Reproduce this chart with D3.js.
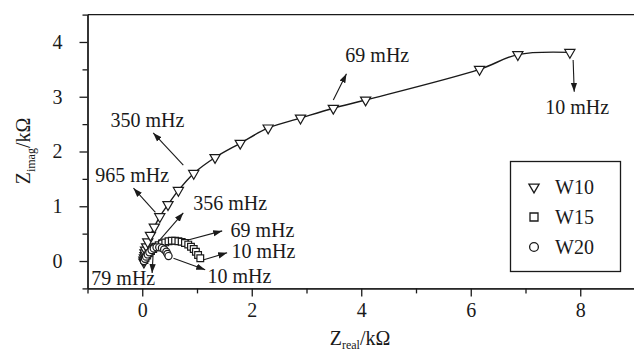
<!DOCTYPE html>
<html>
<head>
<meta charset="utf-8">
<script src="https://cdn.jsdelivr.net/npm/d3@7"></script>
<style>
  html, body { margin: 0; padding: 0; background: #fff; }
  svg { display: block; font-family: "Liberation Serif", "Times New Roman", serif; }
</style>
</head>
<body>
<script>
// W10: Nyquist points (Z_real, Z_imag) in kΩ
const w10Real = [0.03, 0.03, 0.04, 0.05, 0.05, 0.06, 0.08, 0.10, 0.15, 0.22, 0.32, 0.47, 0.66, 0.94, 1.33, 1.79, 2.30, 2.89, 3.49, 4.08, 6.16, 6.86, 7.81];
const w10Imag = [-0.02, 0.02, 0.06, 0.10, 0.15, 0.20, 0.26, 0.35, 0.47, 0.62, 0.81, 1.03, 1.29, 1.60, 1.89, 2.15, 2.43, 2.61, 2.79, 2.94, 3.50, 3.77, 3.81];

const w15Real = [0.04, 0.06, 0.09, 0.12, 0.16, 0.20, 0.25, 0.30, 0.36, 0.42, 0.48, 0.54, 0.60, 0.66, 0.72, 0.78, 0.84, 0.89, 0.94, 0.98, 1.02, 1.06];
const w15Imag = [0.02, 0.06, 0.10, 0.14, 0.18, 0.22, 0.26, 0.29, 0.32, 0.34, 0.36, 0.37, 0.37, 0.36, 0.35, 0.33, 0.30, 0.26, 0.22, 0.17, 0.11, 0.05];

const w20Real = [0.03, 0.05, 0.07, 0.10, 0.13, 0.17, 0.21, 0.26, 0.31, 0.36, 0.40, 0.44, 0.46, 0.48];
const w20Imag = [0.00, 0.04, 0.08, 0.12, 0.16, 0.20, 0.23, 0.25, 0.25, 0.24, 0.21, 0.17, 0.13, 0.09];

const seriesNames = ["W10", "W15", "W20"];

const xMajor = [0, 2, 4, 6, 8];
const xMinor = [-1, 1, 3, 5, 7, 9];
const yMajor = [0, 1, 2, 3, 4];
const yMinor = [-0.5, 0.5, 1.5, 2.5, 3.5, 4.5];

// frequency annotations: label, label anchor, arrow tail, arrow head (data units)
const noteLabels = ["350 mHz", "965 mHz", "356 mHz", "69 mHz", "10 mHz", "10 mHz", "79 mHz", "69 mHz", "10 mHz"];
const noteText = [[-0.58, 2.58], [-0.86, 1.57], [0.93, 1.06], [1.61, 0.57], [1.63, 0.18], [1.19, -0.27], [-0.93, -0.31], [3.71, 3.76], [7.36, 2.81]];
const noteFrom = [[0.75, 1.75], [0.24, 0.89], [0.29, 0.35], [0.82, 0.38], [1.11, 0.02], [0.57, 0.05], [0.20, 0.15], [3.49, 2.94], [7.87, 3.67]];
const noteTo = [[0.20, 2.34], [-0.16, 1.33], [0.75, 0.88], [1.46, 0.55], [1.55, 0.15], [1.15, -0.16], [0.18, -0.22], [3.73, 3.42], [7.89, 3.09]];

const width = 634;
const height = 352;
const ink = "#1a1a1a";

const svg = d3.select("body").append("svg")
  .attr("width", width)
  .attr("height", height);

svg.append("defs").append("marker")
  .attr("id", "head")
  .attr("viewBox", "0 0 10 10")
  .attr("refX", 10)
  .attr("refY", 5)
  .attr("markerWidth", 9)
  .attr("markerHeight", 9)
  .attr("markerUnits", "userSpaceOnUse")
  .attr("orient", "auto")
  .append("path")
  .attr("d", "M0,1.5L10,5L0,8.5Z")
  .attr("fill", ink);

const x = d3.scaleLinear().domain([-1, 9]).range([87.5, 635]);
const y = d3.scaleLinear().domain([-0.5, 4.5]).range([288.4, 14.6]);

const styleAxis = (g) => {
  g.selectAll("path, line").attr("stroke", ink).attr("stroke-width", 1.3);
  g.selectAll("text").attr("font-size", 20).attr("fill", ink)
    .attr("font-family", "Liberation Serif, Times New Roman, serif");
};

// frame top line
svg.append("line")
  .attr("x1", x(-1)).attr("x2", x(9))
  .attr("y1", y(4.5)).attr("y2", y(4.5))
  .attr("stroke", ink).attr("stroke-width", 1.3);

svg.append("g")
  .attr("transform", `translate(0,${y(-0.5)})`)
  .call(d3.axisBottom(x).tickValues(xMinor).tickSize(5).tickSizeOuter(0).tickFormat(""))
  .call(styleAxis);

svg.append("g")
  .attr("transform", `translate(0,${y(-0.5)})`)
  .call(d3.axisBottom(x).tickValues(xMajor).tickSize(8).tickSizeOuter(0).tickPadding(6).tickFormat(d3.format("d")))
  .call(styleAxis);

svg.append("g")
  .attr("transform", `translate(${x(-1)},0)`)
  .call(d3.axisLeft(y).tickValues(yMinor).tickSize(5).tickSizeOuter(0).tickFormat(""))
  .call(styleAxis);

svg.append("g")
  .attr("transform", `translate(${x(-1)},0)`)
  .call(d3.axisLeft(y).tickValues(yMajor).tickSize(8).tickSizeOuter(0).tickPadding(17).tickFormat(d3.format("d")))
  .call(styleAxis);

// axis titles
const xTitle = svg.append("text")
  .attr("x", 360).attr("y", 345)
  .attr("text-anchor", "middle")
  .attr("font-size", 20)
  .attr("fill", ink);
xTitle.append("tspan").text("Z");
xTitle.append("tspan").attr("font-size", 12).attr("dy", 4).text("real");
xTitle.append("tspan").attr("dy", -4).text("/kΩ");

const yTitle = svg.append("text")
  .attr("transform", "translate(30,151) rotate(-90)")
  .attr("text-anchor", "middle")
  .attr("font-size", 20)
  .attr("fill", ink);
yTitle.append("tspan").text("Z");
yTitle.append("tspan").attr("font-size", 12).attr("dy", 5).text("imag");
yTitle.append("tspan").attr("dy", -5).text("/kΩ");

// W10 line + markers
const w10 = w10Real.map((d, i) => [d, w10Imag[i]]);
const w15 = w15Real.map((d, i) => [d, w15Imag[i]]);
const w20 = w20Real.map((d, i) => [d, w20Imag[i]]);

const line = d3.line()
  .x((d) => x(d[0]))
  .y((d) => y(d[1]))
  .curve(d3.curveCatmullRom.alpha(0.5));

svg.append("path")
  .datum(w10)
  .attr("d", line)
  .attr("fill", "none")
  .attr("stroke", ink)
  .attr("stroke-width", 1.4);

const triangle = d3.symbol().type(d3.symbolTriangle).size(45);
const square = d3.symbol().type(d3.symbolSquare).size(45);
const circle = d3.symbol().type(d3.symbolCircle).size(40);

const drawMarks = (data, shape, rotate) => {
  svg.append("g")
    .selectAll("path")
    .data(data)
    .join("path")
    .attr("d", shape)
    .attr("transform", (d) => `translate(${x(d[0])},${y(d[1])})${rotate ? " rotate(180)" : ""}`)
    .attr("fill", "#fff")
    .attr("stroke", ink)
    .attr("stroke-width", 1.2);
};

drawMarks(w10, triangle, true);
drawMarks(w15, square, false);
drawMarks(w20, circle, false);

// annotations
const notes = svg.append("g");
noteLabels.forEach((label, i) => {
  notes.append("line")
    .attr("x1", x(noteFrom[i][0])).attr("y1", y(noteFrom[i][1]))
    .attr("x2", x(noteTo[i][0])).attr("y2", y(noteTo[i][1]))
    .attr("stroke", ink)
    .attr("stroke-width", 1.1)
    .attr("marker-end", "url(#head)");
  notes.append("text")
    .attr("x", x(noteText[i][0]))
    .attr("y", y(noteText[i][1]))
    .attr("dy", "0.35em")
    .attr("font-size", 20)
    .attr("fill", ink)
    .text(label);
});

// legend
const legend = svg.append("g");
legend.append("rect")
  .attr("x", 510.5).attr("y", 161.5)
  .attr("width", 110).attr("height", 110)
  .attr("fill", "#fff")
  .attr("stroke", ink)
  .attr("stroke-width", 1.3);

const legendShapes = [
  d3.symbol().type(d3.symbolTriangle).size(45),
  d3.symbol().type(d3.symbolSquare).size(64),
  d3.symbol().type(d3.symbolCircle).size(60)
];
seriesNames.forEach((name, i) => {
  const cy = 187 + i * 30;
  legend.append("path")
    .attr("d", legendShapes[i])
    .attr("transform", `translate(534,${cy})${i === 0 ? " rotate(180)" : ""}`)
    .attr("fill", "#fff")
    .attr("stroke", ink)
    .attr("stroke-width", 1.3);
  legend.append("text")
    .attr("x", 555).attr("y", cy)
    .attr("dy", "0.35em")
    .attr("font-size", 20)
    .attr("fill", ink)
    .text(name);
});
</script>
</body>
</html>
